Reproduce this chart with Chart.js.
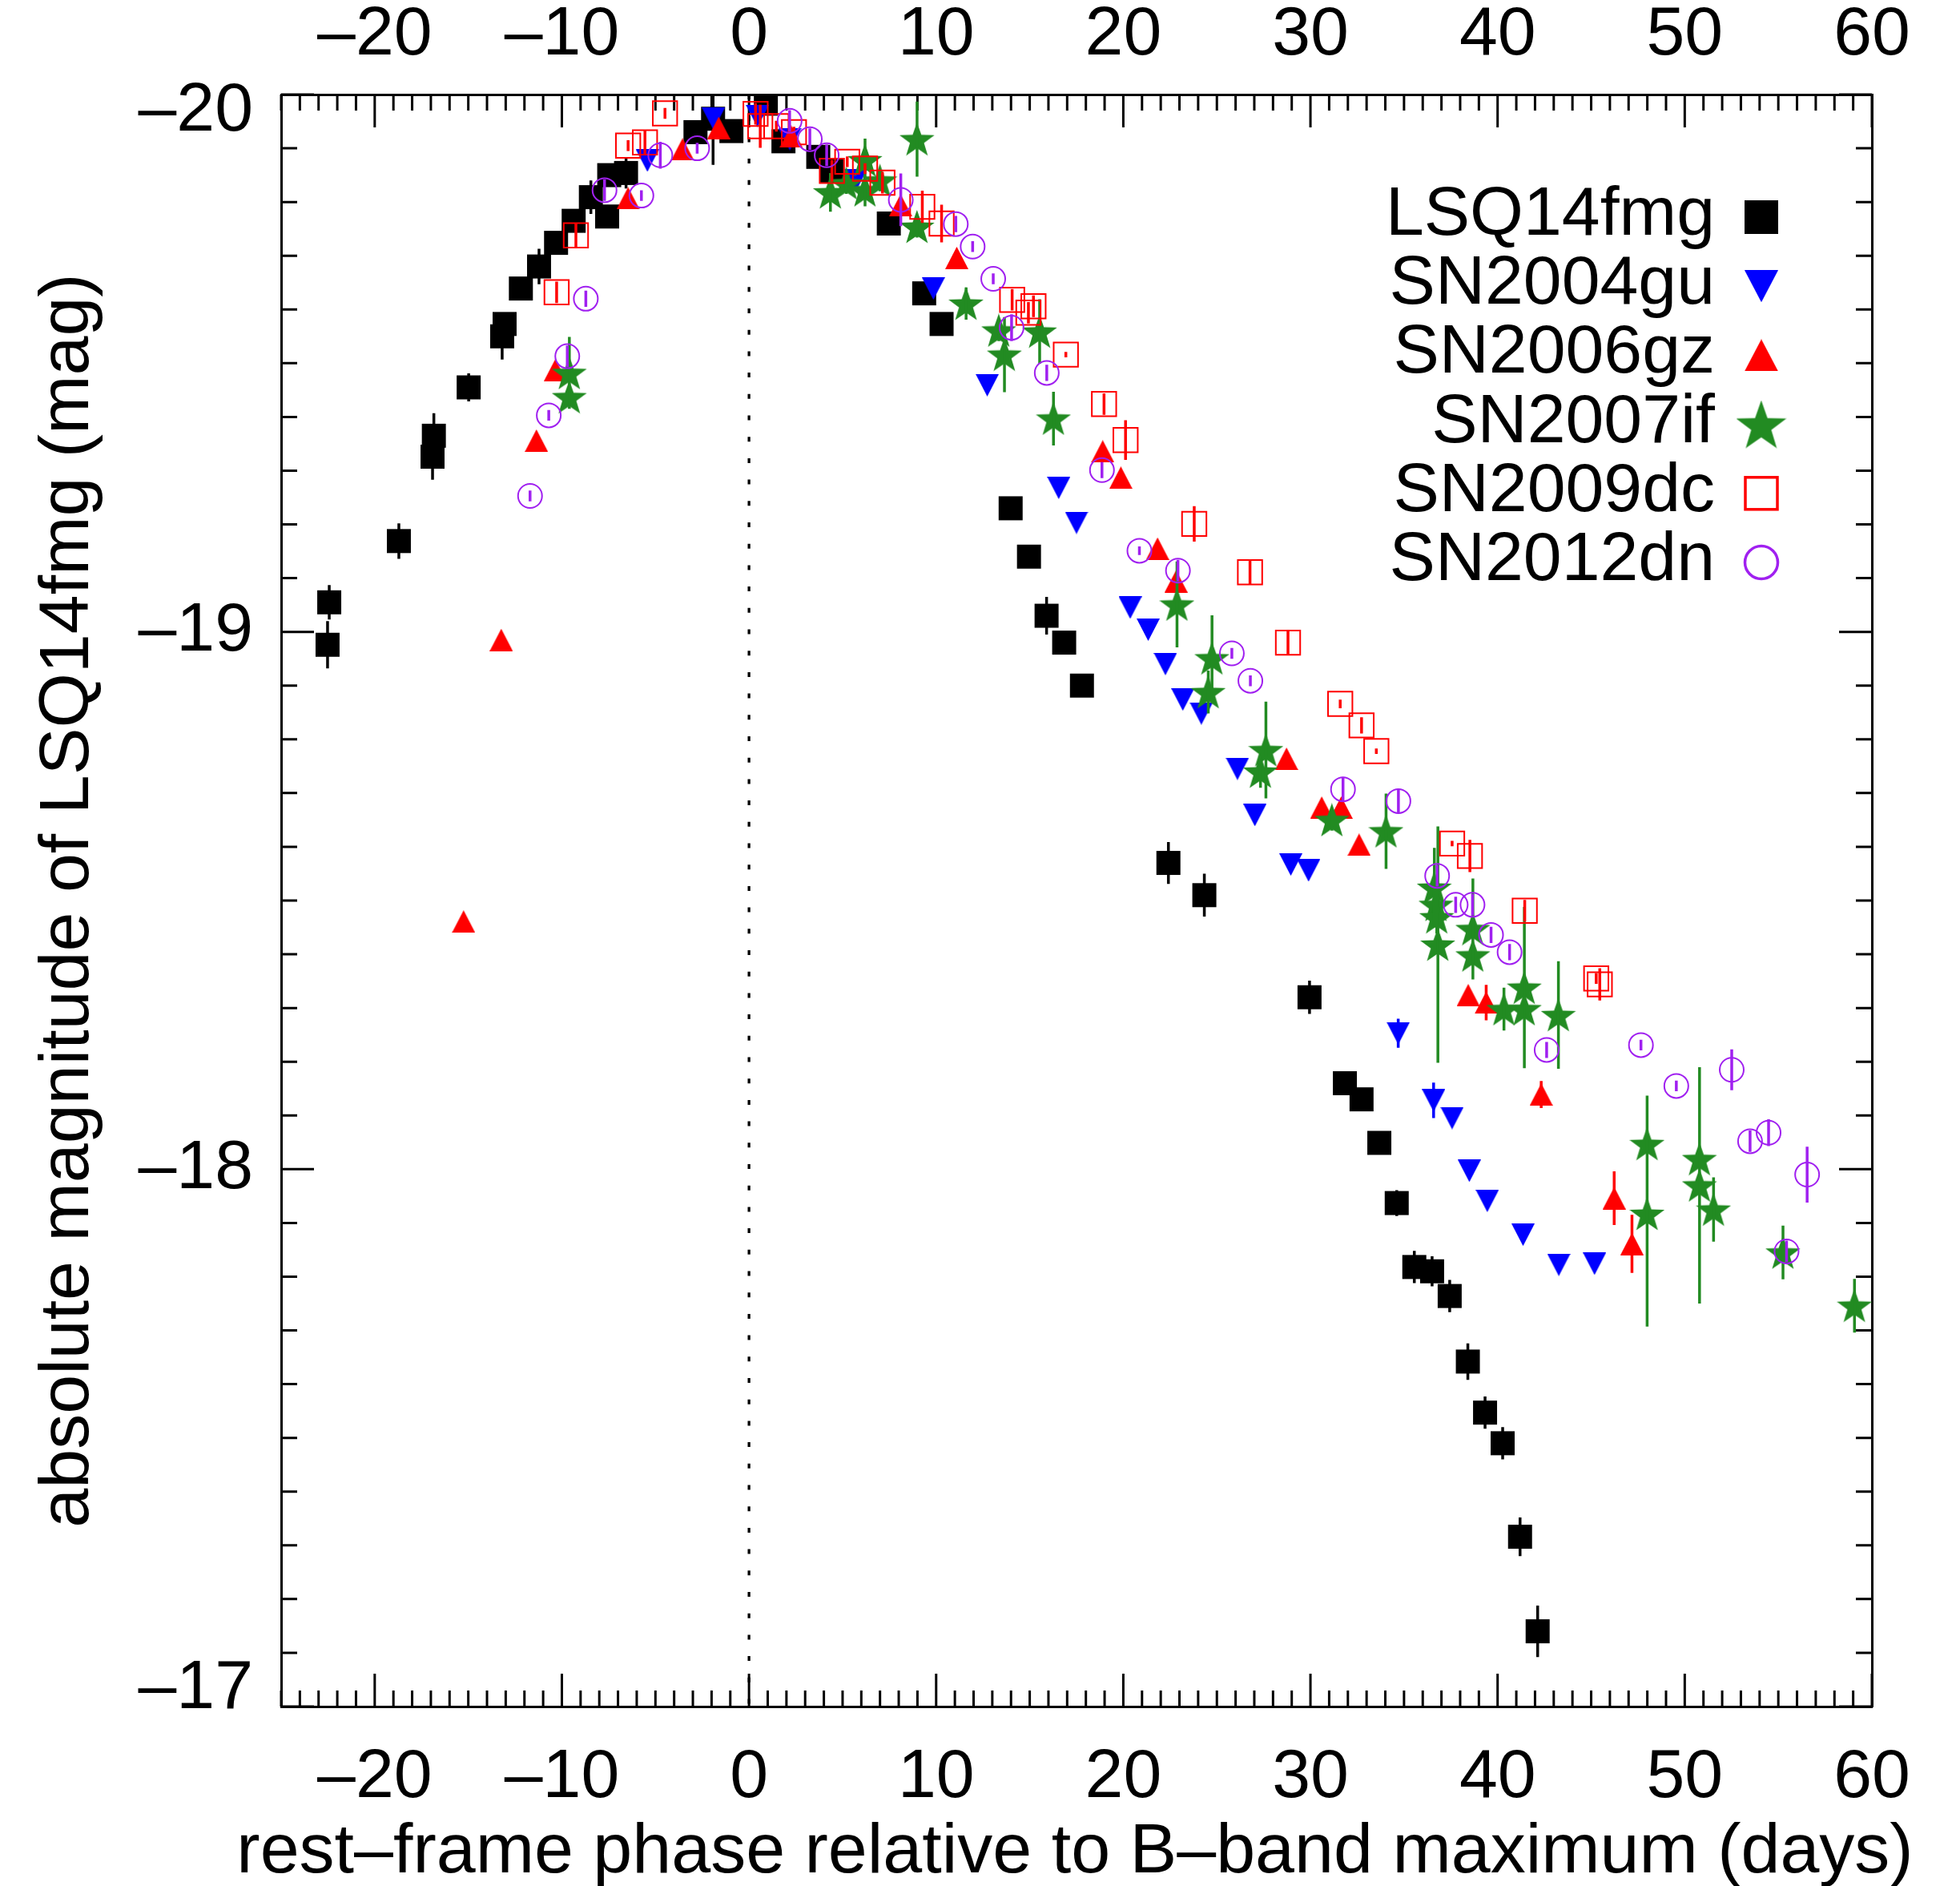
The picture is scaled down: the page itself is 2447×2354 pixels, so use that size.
<!DOCTYPE html>
<html>
<head>
<meta charset="utf-8">
<script src="https://cdn.jsdelivr.net/npm/chart.js@4.4.1/dist/chart.umd.min.js"></script>
<style>
  html, body { margin: 0; padding: 0; background: #fff; }
  #wrap { width: 2447px; height: 2354px; }
</style>
</head>
<body>
<div id="wrap"><canvas id="lc" width="2447" height="2354"></canvas></div>
<script>
// rest-frame phase (days), absolute magnitude, 1-sigma error
const lsqPhase = [-22.52, -22.43, -18.71, -16.91, -16.84, -14.98, -13.19, -13.06, -12.19, -11.22,
  -10.31, -9.37, -8.45, -7.58, -7.47, -6.57, -2.86, -1.92, -0.94, 0.9,
  1.84, 3.7, 4.4, 7.47, 9.36, 10.29, 13.98, 14.96, 15.9, 16.84,
  17.79, 22.41, 24.33, 29.95, 31.84, 32.73, 33.68, 34.61, 35.55, 36.5,
  37.44, 38.41, 39.33, 40.27, 41.2, 42.14];
const lsqMag = [-18.976, -19.055, -19.169, -19.326, -19.365, -19.455, -19.55, -19.573, -19.639, -19.68,
  -19.724, -19.765, -19.809, -19.773, -19.85, -19.854, -19.93, -19.955, -19.932, -19.983,
  -19.913, -19.884, -19.857, -19.76, -19.63, -19.573, -19.23, -19.14, -19.03, -18.98,
  -18.90, -18.57, -18.51, -18.32, -18.16, -18.13, -18.049, -17.937, -17.818, -17.81,
  -17.764, -17.642, -17.547, -17.49, -17.316, -17.14];
const lsqErr = [0.044, 0.032, 0.033, 0.043, 0.042, 0.026, 0.043, 0.02, 0.015, 0.033,
  0.015, 0.02, 0.031, 0.01, 0.02, 0.029, 0.015, 0.086, 0.015, 0.015,
  0.015, 0.015, 0.015, 0.015, 0.015, 0.015, 0.015, 0.015, 0.035, 0.015,
  0.015, 0.039, 0.04, 0.031, 0.015, 0.015, 0.015, 0.024, 0.03, 0.028,
  0.03, 0.034, 0.03, 0.03, 0.036, 0.048];

const gu04Phase = [-5.43, -1.9, 0.45, 2.18, 5.7, 9.85, 12.73, 16.55, 17.5, 20.37,
  21.33, 22.25, 23.18, 24.17, 26.1, 27.03, 28.95, 29.9, 34.69, 36.58,
  37.57, 38.49, 39.45, 41.36, 43.27, 45.18];
const gu04Mag = [-19.877, -19.955, -19.96, -19.917, -19.84, -19.639, -19.459, -19.268, -19.203, -19.045,
  -19.004, -18.94, -18.874, -18.848, -18.745, -18.659, -18.567, -18.556, -18.253, -18.128,
  -18.095, -17.997, -17.941, -17.878, -17.822, -17.824];
const gu04Err = [0.01, 0.01, 0.01, 0.01, 0.01, 0.01, 0.01, 0.01, 0.01, 0.01,
  0.01, 0.01, 0.01, 0.01, 0.01, 0.01, 0.01, 0.01, 0.027, 0.033,
  0.01, 0.01, 0.01, 0.01, 0.01, 0.01];

const gz06Phase = [-15.25, -13.24, -11.36, -10.35, -6.46, -3.55, -1.62, 2.25, 8.1, 11.1,
  18.9, 19.87, 21.83, 22.82, 28.72, 30.6, 31.64, 32.6, 38.43, 39.39,
  42.33, 46.23, 47.18];
const gz06Mag = [-18.461, -18.985, -19.356, -19.487, -19.807, -19.898, -19.938, -19.922, -19.794, -19.696,
  -19.336, -19.287, -19.155, -19.094, -18.764, -18.673, -18.673, -18.604, -18.324, -18.31,
  -18.139, -17.946, -17.861];
const gz06Err = [0.01, 0.01, 0.01, 0.01, 0.01, 0.01, 0.01, 0.01, 0.01, 0.01,
  0.01, 0.01, 0.01, 0.01, 0.01, 0.01, 0.01, 0.01, 0.01, 0.033,
  0.025, 0.05, 0.054];

const if07Phase = [-9.6, -9.6, 4.35, 5.2, 6.2, 6.2, 7.0, 8.98, 8.98, 11.6,
  13.35, 13.65, 15.53, 16.27, 22.87, 24.74, 24.54, 27.62, 27.33, 31.15,
  34.04, 36.62, 36.71, 36.75, 36.81, 38.68, 38.68, 40.34, 41.43, 41.43,
  43.25, 47.99, 47.99, 50.79, 50.79, 51.54, 55.25, 59.07];
const if07Mag = [-19.482, -19.437, -19.818, -19.835, -19.878, -19.822, -19.84, -19.917, -19.754, -19.611,
  -19.561, -19.516, -19.559, -19.397, -19.051, -18.951, -18.888, -18.78, -18.74, -18.65,
  -18.629, -18.524, -18.492, -18.469, -18.418, -18.447, -18.398, -18.298, -18.338, -18.298,
  -18.287, -18.047, -17.917, -18.019, -17.97, -17.925, -17.845, -17.746];
const if07Err = [0.067, 0.02, 0.036, 0.02, 0.04, 0.03, 0.02, 0.07, 0.02, 0.03,
  0.02, 0.07, 0.06, 0.05, 0.08, 0.08, 0.04, 0.09, 0.03, 0.02,
  0.07, 0.074, 0.03, 0.03, 0.22, 0.094, 0.03, 0.04, 0.15, 0.1,
  0.1, 0.09, 0.21, 0.17, 0.22, 0.06, 0.05, 0.05];

const dc09Phase = [-10.28, -9.25, -6.46, -5.56, -4.49, 0.35, 0.6, 1.46, 2.4, 4.43,
  5.25, 6.2, 7.13, 9.26, 10.29, 14.06, 14.93, 15.2, 16.93, 18.97,
  20.12, 23.79, 26.77, 28.8, 31.59, 32.73, 33.52, 37.57, 38.52, 41.45,
  45.27, 45.46];
const dc09Mag = [-19.632, -19.738, -19.905, -19.911, -19.965, -19.964, -19.941, -19.941, -19.93, -19.858,
  -19.875, -19.862, -19.836, -19.791, -19.76, -19.618, -19.594, -19.606, -19.516, -19.424,
  -19.357, -19.201, -19.111, -18.98, -18.866, -18.826, -18.778, -18.606, -18.583, -18.481,
  -18.355, -18.344];
const dc09Err = [0.02, 0.022, 0.01, 0.022, 0.01, 0.02, 0.04, 0.01, 0.01, 0.02,
  0.01, 0.01, 0.02, 0.03, 0.035, 0.02, 0.02, 0.02, 0.005, 0.02,
  0.037, 0.033, 0.022, 0.022, 0.008, 0.015, 0.005, 0.005, 0.03, 0.02,
  0.01, 0.03];

const dn12Phase = [-11.7, -10.7, -9.71, -8.72, -7.72, -5.75, -4.74, -2.77, 2.17, 3.25,
  4.15, 8.11, 11.05, 11.95, 13.05, 14.03, 15.91, 18.86, 20.86, 22.92,
  25.8, 26.79, 31.74, 34.7, 36.77, 37.76, 38.66, 39.65, 40.64, 42.62,
  47.66, 49.55, 52.51, 53.49, 54.48, 55.44, 56.54];
const dn12Mag = [-19.253, -19.403, -19.513, -19.62, -19.822, -19.812, -19.887, -19.9, -19.951, -19.917,
  -19.887, -19.804, -19.759, -19.717, -19.657, -19.566, -19.482, -19.301, -19.151, -19.114,
  -18.96, -18.909, -18.707, -18.685, -18.546, -18.492, -18.492, -18.436, -18.404, -18.222,
  -18.231, -18.155, -18.185, -18.052, -18.068, -17.847, -17.99];
const dn12Err = [0.01, 0.01, 0.02, 0.015, 0.02, 0.01, 0.025, 0.01, 0.02, 0.02,
  0.02, 0.049, 0.015, 0.01, 0.01, 0.025, 0.015, 0.015, 0.008, 0.02,
  0.01, 0.01, 0.023, 0.023, 0.02, 0.015, 0.02, 0.015, 0.015, 0.015,
  0.01, 0.01, 0.038, 0.02, 0.025, 0.02, 0.052];

const seriesNames = ['LSQ14fmg', 'SN2004gu', 'SN2006gz', 'SN2007if', 'SN2009dc', 'SN2012dn'];
const xTickValues = [-20, -10, 0, 10, 20, 30, 40, 50, 60];
const yTickValues = [-20, -19, -18, -17];

const FONT = '"Liberation Sans", Arial, Helvetica, sans-serif';
const BLACK = '#000000', BLUE = '#0000ff', RED = '#ff0000', GREEN = '#228b22', PURPLE = '#a020f0';

function dash(v) { return (v < 0 ? '\u2013' : '') + Math.abs(v); }
function pts(xs, ys) { return xs.map((x, i) => ({ x: x, y: ys[i] })); }

// filled triangle marker, centred on its bounding box
function triMarker(w, h, color, up) {
  const c = document.createElement('canvas');
  c.width = w; c.height = h;
  const g = c.getContext('2d');
  g.fillStyle = color;
  g.beginPath();
  if (up) { g.moveTo(w / 2, 0); g.lineTo(w, h); g.lineTo(0, h); }
  else { g.moveTo(0, 0); g.lineTo(w, 0); g.lineTo(w / 2, h); }
  g.closePath();
  g.fill();
  return c;
}

// filled five-point star
function starMarker(R, color) {
  const p = [];
  for (let i = 0; i < 10; i++) {
    const a = -Math.PI / 2 + i * Math.PI / 5;
    const r = i % 2 ? R * 0.4 : R;
    p.push([r * Math.cos(a), r * Math.sin(a)]);
  }
  const minX = Math.min(...p.map(q => q[0])), maxX = Math.max(...p.map(q => q[0]));
  const minY = Math.min(...p.map(q => q[1])), maxY = Math.max(...p.map(q => q[1]));
  const c = document.createElement('canvas');
  c.width = Math.ceil(maxX - minX); c.height = Math.ceil(maxY - minY);
  const g = c.getContext('2d');
  g.fillStyle = color;
  g.beginPath();
  p.forEach((q, i) => {
    const X = q[0] - minX, Y = q[1] - minY;
    if (i) g.lineTo(X, Y); else g.moveTo(X, Y);
  });
  g.closePath();
  g.fill();
  return c;
}

const downTri = triMarker(29, 28, BLUE, false);
const upTri = triMarker(29, 28, RED, true);
const star = starMarker(23, GREEN);

const errBars = [lsqErr, gu04Err, gz06Err, if07Err, dc09Err, dn12Err];
const errColors = [BLACK, BLUE, RED, GREEN, RED, PURPLE];

// legend marks, drawn bigger than the plot symbols
const bigDown = triMarker(42, 40, BLUE, false);
const bigUp = triMarker(42, 40, RED, true);
const bigStar = starMarker(33, GREEN);
const legendMarks = [
  (g, x, y) => { g.fillStyle = BLACK; g.fillRect(x - 21, y - 21, 42, 42); },
  (g, x, y) => g.drawImage(bigDown, x - 21, y - 20),
  (g, x, y) => g.drawImage(bigUp, x - 21, y - 20),
  (g, x, y) => g.drawImage(bigStar, x - bigStar.width / 2, y - bigStar.height / 2),
  (g, x, y) => { g.strokeStyle = RED; g.lineWidth = 3.5; g.strokeRect(x - 20, y - 20, 40, 40); },
  (g, x, y) => { g.strokeStyle = PURPLE; g.lineWidth = 3.5; g.beginPath(); g.arc(x, y, 20.5, 0, 2 * Math.PI); g.stroke(); }
];

const decor = {
  id: 'decor',
  beforeDatasetsDraw(chart) {
    const { ctx, chartArea: a, scales } = chart;
    const sx = scales.x, sy = scales.y;
    ctx.save();
    ctx.strokeStyle = '#000';
    ctx.lineWidth = 3;
    ctx.beginPath();
    for (let d = -25; d <= 60; d++) {
      const x = sx.getPixelForValue(d);
      const L = d % 10 === 0 ? 41 : 20;
      ctx.moveTo(x, a.bottom); ctx.lineTo(x, a.bottom - L);
      ctx.moveTo(x, a.top); ctx.lineTo(x, a.top + L);
    }
    for (let k = 0; k <= 30; k++) {
      const y = sy.getPixelForValue(-20 + k / 10);
      const L = k % 10 === 0 ? 41 : 20;
      ctx.moveTo(a.left, y); ctx.lineTo(a.left + L, y);
      ctx.moveTo(a.right, y); ctx.lineTo(a.right - L, y);
    }
    ctx.stroke();
    // dotted line at B-band maximum
    const x0 = sx.getPixelForValue(0);
    ctx.lineWidth = 3.3;
    ctx.setLineDash([6, 20.7]);
    ctx.beginPath();
    ctx.moveTo(x0, a.top);
    ctx.lineTo(x0, a.bottom);
    ctx.stroke();
    ctx.restore();
  },
  afterDatasetDraw(chart, args) {
    const { ctx, chartArea: a, scales } = chart;
    const ds = chart.data.datasets[args.index];
    const errs = errBars[args.index];
    ctx.save();
    ctx.beginPath();
    ctx.rect(a.left, a.top, a.right - a.left, a.bottom - a.top);
    ctx.clip();
    ctx.strokeStyle = errColors[args.index];
    ctx.lineWidth = 3.5;
    ctx.beginPath();
    ds.data.forEach((p, i) => {
      const x = scales.x.getPixelForValue(p.x);
      ctx.moveTo(x, scales.y.getPixelForValue(p.y - errs[i]));
      ctx.lineTo(x, scales.y.getPixelForValue(p.y + errs[i]));
    });
    ctx.stroke();
    ctx.restore();
  },
  afterDraw(chart) {
    const ctx = chart.ctx;
    ctx.save();
    ctx.fillStyle = '#000';
    ctx.textBaseline = 'alphabetic';
    // axis titles
    ctx.font = '88px ' + FONT;
    ctx.textAlign = 'center';
    ctx.fillText('rest\u2013frame phase relative to B\u2013band maximum (days)', 1342, 2337);
    ctx.save();
    ctx.translate(110, 1124);
    ctx.rotate(-Math.PI / 2);
    ctx.fillText('absolute magnitude of LSQ14fmg (mag)', 0, 0);
    ctx.restore();
    // legend
    ctx.font = '86px ' + FONT;
    ctx.textAlign = 'right';
    seriesNames.forEach((name, i) => {
      const base = 293 + i * 86.2;
      ctx.fillText(name, 2141, base);
      legendMarks[i](ctx, 2199, base - 22);
    });
    ctx.restore();
  }
};

const xTicks = (pad) => ({
  autoSkip: false, maxRotation: 0, includeBounds: false, stepSize: 10, padding: pad,
  color: '#000', font: { family: FONT, size: 86, lineHeight: 1 },
  callback: v => (xTickValues.includes(v) ? dash(v) : '')
});

new Chart(document.getElementById('lc'), {
  type: 'scatter',
  data: {
    datasets: [
      { label: seriesNames[0], data: pts(lsqPhase, lsqMag), order: 5,
        pointStyle: 'rect', pointRadius: 21.2, pointBackgroundColor: BLACK, pointBorderWidth: 0 },
      { label: seriesNames[1], data: pts(gu04Phase, gu04Mag), order: 4,
        pointStyle: downTri, pointRadius: 14 },
      { label: seriesNames[2], data: pts(gz06Phase, gz06Mag), order: 3,
        pointStyle: upTri, pointRadius: 14 },
      { label: seriesNames[3], data: pts(if07Phase, if07Mag), order: 2,
        pointStyle: star, pointRadius: 20 },
      { label: seriesNames[4], data: pts(dc09Phase, dc09Mag), order: 1,
        pointStyle: 'rect', pointRadius: 21.5, pointBackgroundColor: 'rgba(0,0,0,0)',
        pointBorderColor: RED, pointBorderWidth: 2 },
      { label: seriesNames[5], data: pts(dn12Phase, dn12Mag), order: 0,
        pointStyle: 'circle', pointRadius: 15, pointBackgroundColor: 'rgba(0,0,0,0)',
        pointBorderColor: PURPLE, pointBorderWidth: 2 }
    ].map(d => Object.assign({ clip: 0, showLine: false }, d))
  },
  options: {
    responsive: false,
    animation: false,
    devicePixelRatio: 1,
    layout: { padding: 0 },
    plugins: { legend: { display: false }, tooltip: { enabled: false } },
    scales: {
      x: {
        type: 'linear', position: 'bottom', min: -25, max: 60,
        grid: { display: false }, border: { display: true, color: '#000', width: 3 },
        ticks: xTicks(38),
        afterFit: s => { s.height = 224; }
      },
      x2: {
        type: 'linear', position: 'top', min: -25, max: 60,
        grid: { display: false }, border: { display: true, color: '#000', width: 3 },
        ticks: xTicks(22.5),
        afterFit: s => { s.height = 118; }
      },
      y: {
        type: 'linear', position: 'left', min: -20, max: -17, reverse: true,
        grid: { display: false }, border: { display: true, color: '#000', width: 3 },
        ticks: {
          stepSize: 1, padding: 27, color: '#000', autoSkip: false,
          font: { family: FONT, size: 86, lineHeight: 0.5 },
          callback: v => {
            if (!yTickValues.includes(v)) return '';
            if (v === -20) return ['', dash(v)];
            if (v === -17) return [dash(v), ''];
            return dash(v);
          }
        },
        afterFit: s => { s.width = 351; }
      },
      y2: {
        type: 'linear', position: 'right', min: -20, max: -17, reverse: true,
        grid: { display: false }, border: { display: true, color: '#000', width: 3 },
        ticks: { display: false },
        afterFit: s => { s.width = 110; }
      }
    }
  },
  plugins: [decor]
});
</script>
</body>
</html>
